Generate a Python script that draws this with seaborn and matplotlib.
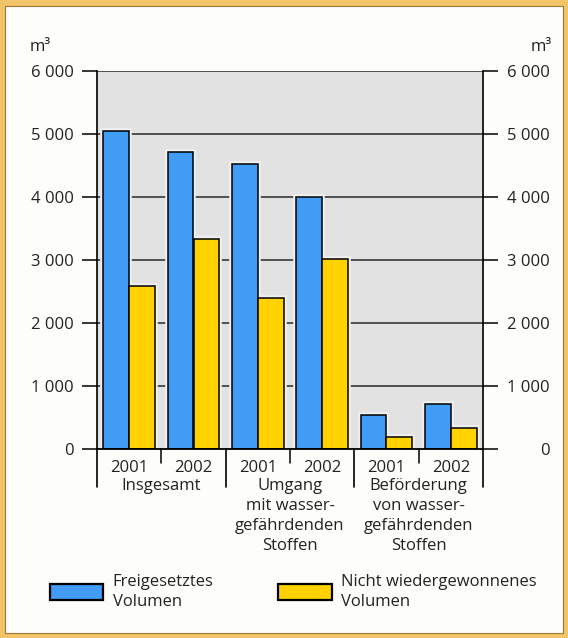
import matplotlib
matplotlib.use("Agg")
import matplotlib.pyplot as plt
from matplotlib.patches import Rectangle, Patch
import seaborn as sns
import pandas as pd

# ---- data ----
groups = ["Insgesamt",
          "Umgang\nmit wasser-\ngefährdenden\nStoffen",
          "Beförderung\nvon wasser-\ngefährdenden\nStoffen"]
years = ["2001", "2002", "2001", "2002", "2001", "2002"]
keys = ["I 2001", "I 2002", "U 2001", "U 2002", "B 2001", "B 2002"]
freigesetzt = [5040, 4720, 4520, 4000, 540, 710]
nicht_wieder = [2580, 3330, 2390, 3010, 190, 330]
series = ["Freigesetztes\nVolumen", "Nicht wiedergewonnenes\nVolumen"]
yticks = [0, 1000, 2000, 3000, 4000, 5000, 6000]
ytick_labels = ["0", "1 000", "2 000", "3 000", "4 000", "5 000", "6 000"]

df = pd.DataFrame({
    "key": keys * 2,
    "value": freigesetzt + nicht_wieder,
    "series": [series[0]] * 6 + [series[1]] * 6,
})

sns.set_style("white")
plt.rcParams["font.family"] = ["Open Sans", "DejaVu Sans"]
FS = 12
TC = "#222222"
BLUE = "#409cf4"
YELLOW = "#ffd200"

fig = plt.figure(figsize=(5.68, 6.38), dpi=100)
fig.patch.set_facecolor("#f1c468")
fig.patches.append(Rectangle((5 / 568, 5 / 638), 558 / 568, 627 / 638,
                             transform=fig.transFigure, facecolor="#fdfdfa",
                             edgecolor="#9a7a35", linewidth=0.8, zorder=-10))

ax = fig.add_axes([97 / 568, (638 - 449) / 638, 386 / 568, 378 / 638])
ax.set_facecolor("#e2e2e2")

sns.barplot(data=df, x="key", y="value", hue="series", order=keys,
            hue_order=series, palette=[BLUE, YELLOW],
            edgecolor="black", linewidth=1.1, saturation=1, ax=ax,
            width=0.8, zorder=3)

# light halo behind bars (interrupts grid lines near bars)
for p in list(ax.patches):
    halo = Rectangle(p.get_xy(), p.get_width(), p.get_height(),
                     facecolor="none", edgecolor="#f0f0f0", linewidth=4,
                     zorder=2)
    ax.add_patch(halo)

ax.set_xlim(-0.5, 5.5)
ax.set_ylim(0, 6000)
ax.set_xlabel("")
ax.set_ylabel("")

# grid lines
for yv in yticks[1:]:
    ax.axhline(yv, color="#2a2a2a", lw=1.1, zorder=1)
ax.axhline(0, color="black", lw=1.3, zorder=6, clip_on=False)

for s in ["top", "bottom"]:
    ax.spines[s].set_visible(False)
for s in ["left", "right"]:
    ax.spines[s].set_color("black")
    ax.spines[s].set_linewidth(1.2)

ax.set_yticks(yticks)
ax.set_yticklabels(ytick_labels, fontsize=FS, color=TC)
ax.tick_params(axis="y", direction="out", length=11, width=1.1, color="black",
               pad=6, left=True)
ax.set_xticks(range(len(keys)))
ax.set_xticklabels(years, fontsize=FS, color=TC)
ax.tick_params(axis="x", length=0, pad=8)

ax2 = ax.twinx()
ax2.set_ylim(ax.get_ylim())
ax2.set_yticks(yticks)
ax2.set_yticklabels(ytick_labels, fontsize=FS, color=TC, ha="right")
ax2.tick_params(axis="y", direction="out", length=11, width=1.1, color="black",
                pad=37)
for s in ["top", "bottom", "left", "right"]:
    ax2.spines[s].set_visible(False)

# separators below the axis
for xv in [0.5, 2.5, 4.5]:
    ax.plot([xv, xv], [0, -225], color="black", lw=1.1, clip_on=False, zorder=6)
for xv in [-0.5, 1.5, 3.5, 5.5]:
    ax.plot([xv, xv], [0, -610], color="black", lw=1.2, clip_on=False, zorder=6)

# group labels
for i, g in enumerate(groups):
    ax.annotate(g, xy=(2 * i + 0.5, 0), xycoords=("data", "axes fraction"),
                xytext=(0, -21), textcoords="offset points", ha="center",
                va="top", fontsize=FS, color=TC, linespacing=1.33)

# units
fig.text(30 / 568, 1 - 47 / 638, "m³", fontsize=FS, color=TC, va="center")
fig.text(552 / 568, 1 - 47 / 638, "m³", fontsize=FS, color=TC, va="center",
         ha="right")

# legend
ax.get_legend().remove()
handles = [Patch(facecolor=BLUE, edgecolor="black", linewidth=1.6),
           Patch(facecolor=YELLOW, edgecolor="black", linewidth=1.6)]
leg = fig.legend(handles, series, loc="upper left",
                 bbox_to_anchor=(50 / 568, 1 - 574 / 638), ncol=2, frameon=False,
                 fontsize=FS, handlelength=3.2, handleheight=1.1,
                 handletextpad=0.55, columnspacing=3.9, borderpad=0,
                 borderaxespad=0, labelcolor=TC, labelspacing=0.2)
for t in leg.get_texts():
    t.set_linespacing(1.3)

fig.savefig("out.png", dpi=100, facecolor=fig.get_facecolor())
